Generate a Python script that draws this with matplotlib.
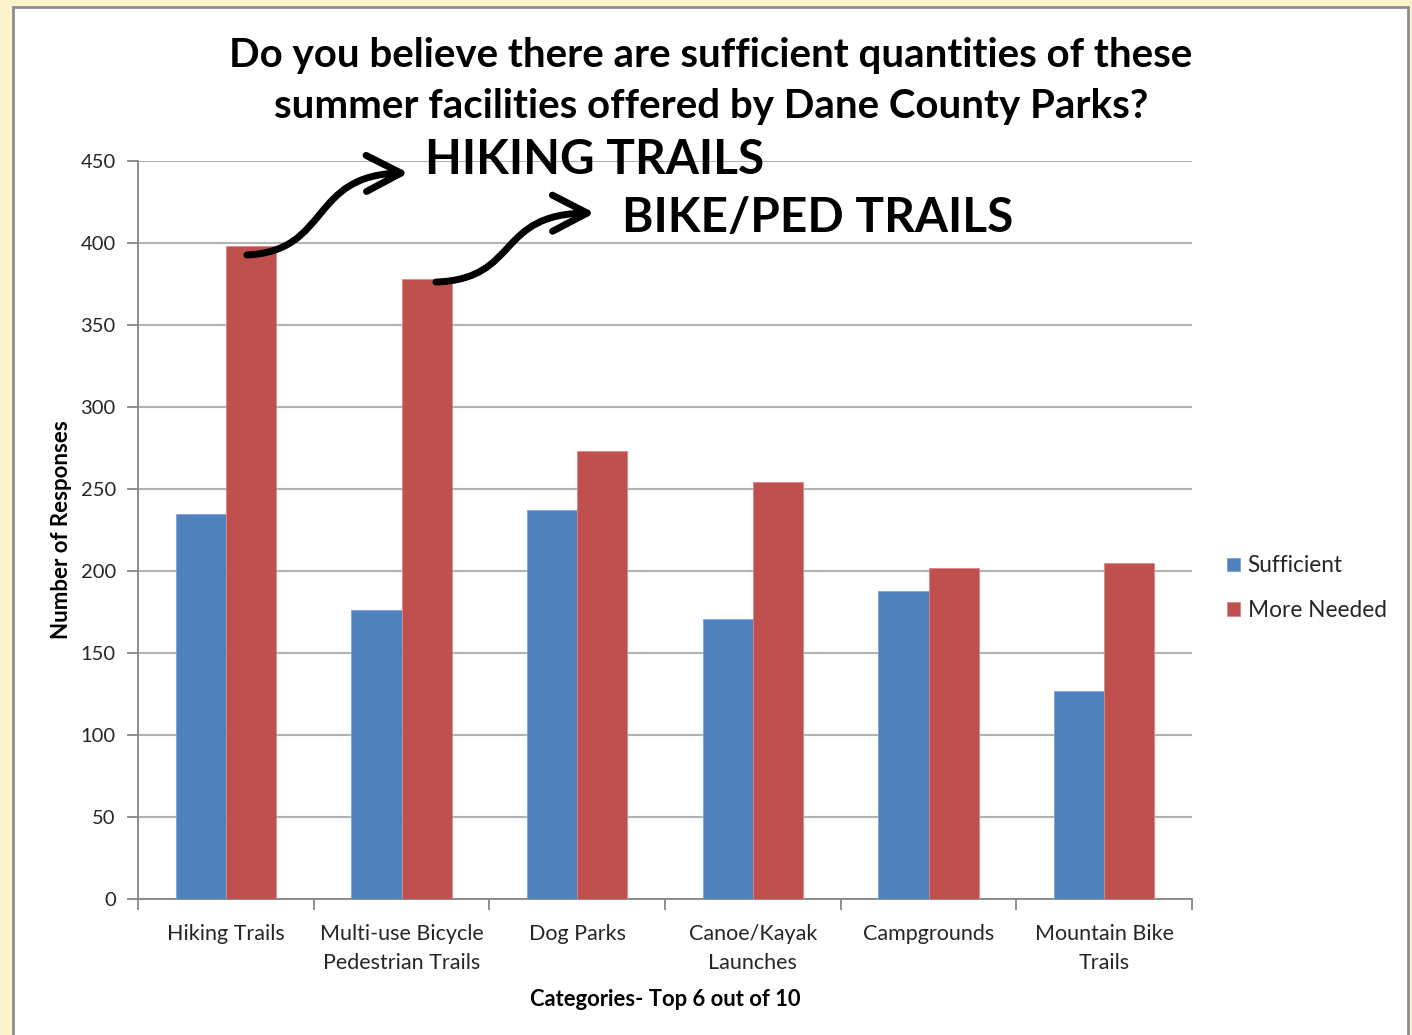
import matplotlib.pyplot as plt
from matplotlib.patches import Rectangle, FancyArrowPatch
from matplotlib.path import Path

plt.rcParams['font.family'] = ['Lato', 'DejaVu Sans']

categories = ['Hiking Trails', 'Multi-use Bicycle\nPedestrian Trails', 'Dog Parks',
              'Canoe/Kayak\nLaunches', 'Campgrounds', 'Mountain Bike\nTrails']
sufficient = [235, 176, 237, 171, 188, 127]
more_needed = [398, 378, 273, 254, 202, 205]
series_names = ['Sufficient', 'More Needed']
yticks = [0, 50, 100, 150, 200, 250, 300, 350, 400, 450]

BLUE = '#4F81BD'
RED = '#C0504D'
GRID = '#B3B3B3'
TEXT = '#262626'

fig = plt.figure(figsize=(14.12, 10.35), dpi=100)
fig.patch.set_facecolor('#FEF2CD')

# white chart panel with grey frame
fig.patches.append(Rectangle((13 / 1412, -0.01), 1395 / 1412, 1 - 7 / 1035 + 0.01,
                             transform=fig.transFigure, facecolor='white',
                             edgecolor='#8C8C8C', linewidth=2, zorder=-5))

ax = fig.add_axes([138 / 1412, 1 - 899 / 1035, 1054 / 1412, 738 / 1035])
ax.patch.set_alpha(0)

x = list(range(len(categories)))
w = 0.285
ax.bar([i - w / 2 for i in x], sufficient, width=w, color=BLUE, label=series_names[0],
       edgecolor='#7FA3D0', linewidth=0.6, zorder=3)
ax.bar([i + w / 2 for i in x], more_needed, width=w, color=RED, label=series_names[1],
       edgecolor='#D9898A', linewidth=0.6, zorder=3)

ax.set_xlim(-0.5, len(categories) - 0.5)
ax.set_ylim(0, 450)
ax.set_yticks(yticks)
ax.yaxis.grid(True, color=GRID, linewidth=1.5, zorder=0)
ax.set_axisbelow(True)

# ticks on category boundaries, labels at centres
ax.set_xticks([i - 0.5 for i in range(len(categories) + 1)])
ax.set_xticklabels([])
ax.set_xticks(x, minor=True)
ax.set_xticklabels(categories, minor=True, fontsize=15.5, color=TEXT, linespacing=1.55)
ax.tick_params(axis='x', which='minor', length=0, pad=18)
ax.tick_params(axis='x', which='major', length=8, width=1.3, color='#868686')
ax.tick_params(axis='y', length=8, width=1.3, color='#868686', labelsize=14.5,
               labelcolor=TEXT, pad=8)

for s in ['top', 'right']:
    ax.spines[s].set_visible(False)
for s in ['left', 'bottom']:
    ax.spines[s].set_color('#868686')
    ax.spines[s].set_linewidth(1.3)

ax.set_ylabel('Number of Responses', fontsize=16, fontweight='bold', color='black', labelpad=6)
ax.set_xlabel('Categories- Top 6 out of 10', fontsize=15.8, fontweight='bold', color='black',
              labelpad=12)

fig.text(711 / 1412, 1 - 81 / 1035,
         'Do you believe there are sufficient quantities of these\nsummer facilities offered by Dane County Parks?',
         ha='center', va='center', fontsize=29, fontweight='bold', color='black', linespacing=1.45)

leg = ax.legend(loc='center left', bbox_to_anchor=(1.014, 0.421), frameon=False, fontsize=16.3,
                handlelength=0.55, handleheight=0.55, handletextpad=0.35, labelspacing=1.05,
                labelcolor=TEXT)


# S-shaped callout arrows, starting at the bar tops (offsets from the bar's category / value)
def callout(xi, val, dxs, dys):
    verts = [(xi + dx, val + dy) for dx, dy in zip(dxs, dys)]
    path = Path(verts, [Path.MOVETO, Path.CURVE4, Path.CURVE4, Path.CURVE4])
    arr = FancyArrowPatch(path=path, arrowstyle='->,head_length=25,head_width=13',
                          color='black', linewidth=5, mutation_scale=1,
                          transform=ax.transData, clip_on=False, zorder=6)
    ax.add_patch(arr)


callout(0, more_needed[0], [0.12, 0.60, 0.47, 1.04], [-5.3, -3.0, 44.0, 44.7])
callout(1, more_needed[1], [0.196, 0.68, 0.53, 1.10], [-1.8, 0.0, 40.0, 40.3])

fig.text(425 / 1412, 1 - 160 / 1035, 'HIKING TRAILS', ha='left', va='center',
         fontsize=34.4, fontweight='bold', color='black')
fig.text(622 / 1412, 1 - 218 / 1035, 'BIKE/PED TRAILS', ha='left', va='center',
         fontsize=34.4, fontweight='bold', color='black')

fig.savefig('out.png', dpi=100, facecolor=fig.get_facecolor())
